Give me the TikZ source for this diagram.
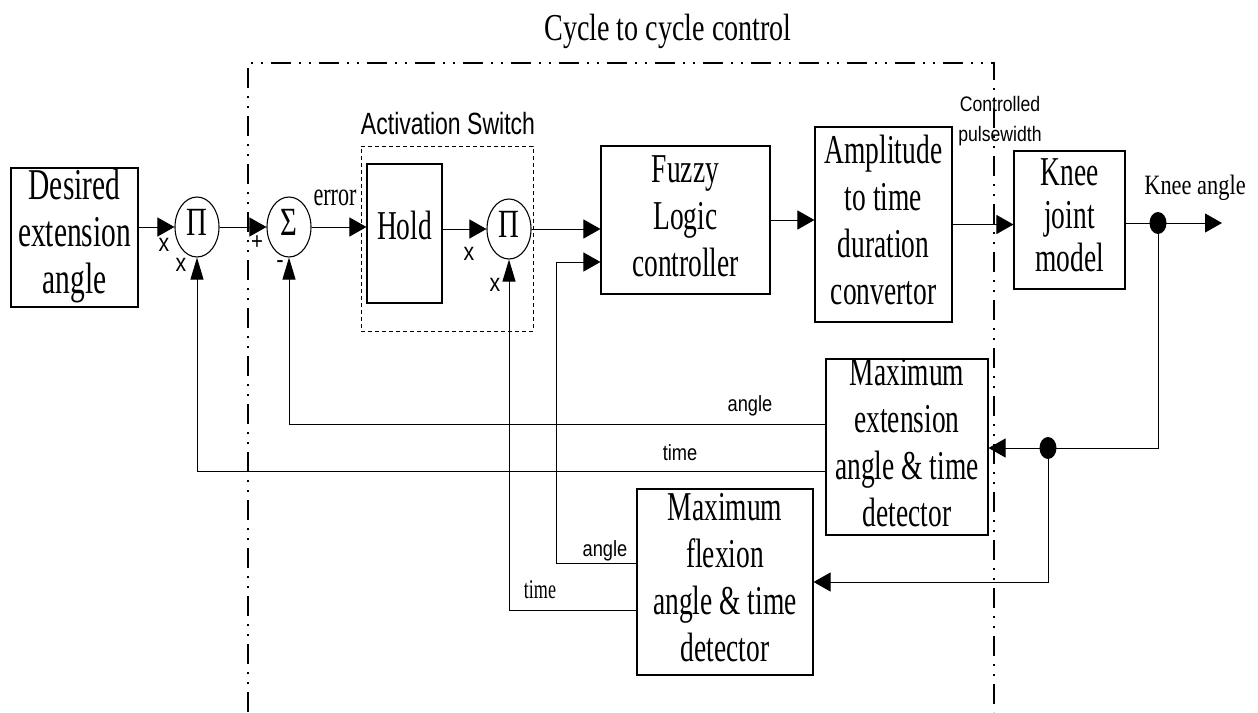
\documentclass[tikz,border=0pt]{standalone}
\usepackage{fontspec}
\setmainfont{Liberation Serif}
\setsansfont{Liberation Sans}
\usepackage{graphicx}
\usetikzlibrary{arrows.meta,shapes.geometric}
\newcommand\sertxt[4]{\scalebox{#2}[1]{\fontsize{#1}{#3}\selectfont\begin{tabular}{@{}c@{}}#4\end{tabular}}}
\newcommand\sanstxt[4]{\scalebox{#2}[1]{\sffamily\fontsize{#1}{#3}\selectfont\begin{tabular}{@{}c@{}}#4\end{tabular}}}
\begin{document}
\begin{tikzpicture}[x=1pt,y=-1pt,
  box/.style={draw, line width=1.1pt, inner sep=0pt},
  dbox/.style={draw, line width=0.8pt, dash pattern=on 4pt off 3pt, inner sep=0pt},
  sumnode/.style={draw, ellipse, line width=1.1pt, minimum width=44pt, minimum height=60pt, inner sep=0pt},
  lbl/.style={inner sep=0pt},
  wire/.style={line width=1pt},
  harr/.style={wire, -{Triangle[length=17pt,width=19pt]}},
  varr/.style={wire, -{Triangle[length=22pt,width=13pt]}},
  dotnode/.style={fill, ellipse, minimum width=17pt, minimum height=22pt, inner sep=0pt},
  frame/.style={line width=2.5pt, dash pattern=on 20pt off 8pt on 2pt off 8pt on 2pt off 8pt}]
\useasboundingbox (0,0) rectangle (1258,712);

% dash-dot frame
\draw[frame] (248,712) -- (248,63) -- (994,63) -- (994,712);

% blocks
\node[box, minimum width=127pt, minimum height=139pt] (desired) at (74.5,237.5) {};
\node[lbl] (desiredT) at (desired) {\sertxt{44}{0.67}{47}{Desired\\extension\\angle}};

\node[dbox, minimum width=172pt, minimum height=185pt] (act) at (447,238.5) {};
\node[lbl] (actT) at (448,127) {\sanstxt{30.7}{0.75}{36}{Activation Switch}};

\node[box, minimum width=75pt, minimum height=139pt] (hold) at (404.5,233.5) {};
\node[lbl] (holdT) at (404.5,230) {\sertxt{41}{0.67}{47}{Hold}};

\node[box, minimum width=169pt, minimum height=148pt] (fuzzy) at (685.5,220) {};
\node[lbl] (fuzzyT) at (fuzzy) {\sertxt{41}{0.67}{47}{Fuzzy\\Logic\\controller}};

\node[box, minimum width=137pt, minimum height=195pt] (amp) at (883.5,224.5) {};
\node[lbl] (ampT) at (amp) {\sertxt{41}{0.67}{47}{Amplitude\\to time\\duration\\convertor}};

\node[box, minimum width=111pt, minimum height=138pt] (knee) at (1069.5,220) {};
\node[lbl] (kneeT) at (knee) {\sertxt{41}{0.67}{43}{Knee\\joint\\model}};

\node[box, minimum width=162pt, minimum height=176pt] (maxext) at (907,447) {};
\node[lbl] (maxextT) at (maxext) {\sertxt{41}{0.67}{47}{Maximum\\extension\\angle \& time\\detector}};

\node[box, minimum width=176pt, minimum height=186pt] (maxflex) at (725,582) {};
\node[lbl] (maxflexT) at (maxflex) {\sertxt{41}{0.67}{47}{Maximum\\flexion\\angle \& time\\detector}};

% summing / product junctions
\node[sumnode] (p1) at (197,227) {\sertxt{40}{0.72}{42}{Π}};
\node[sumnode] (s1) at (289,227) {\sertxt{40}{0.72}{42}{Σ}};
\node[sumnode] (p2) at (509,229) {\sertxt{40}{0.72}{42}{Π}};

% branch dots
\node[dotnode] (j1) at (1158,223) {};
\node[dotnode] (j2) at (1048,448) {};

% helper coordinates
\coordinate (out) at (1222,223);
\coordinate (yA) at (0,424);
\coordinate (yT) at (0,471);
\coordinate (yFA) at (0,563);
\coordinate (yFT) at (0,610);
\coordinate (fa) at (556,262);

% forward path
\draw[harr] (desired.east |- p1) -- (p1.west);
\draw[harr] (p1) -- (s1);
\draw[harr] (s1.east) -- (s1.east -| hold.west);
\draw[harr] (hold.east |- p2) -- (p2.west);
\draw[harr] (p2.east) -- (p2.east -| fuzzy.west);
\draw[harr] (fuzzy.east) -- (fuzzy.east -| amp.west);
\draw[harr] (amp.east) -- (amp.east -| knee.west);
\draw[harr] (knee.east |- out) -- (out);

% feedback path
\draw[wire] (j1.center) |- (j2.center);
\draw[harr] (j2.center) -- (j2.center -| maxext.east);
\draw[harr] (j2.center) |- (maxflex.east);
\draw[varr] (maxext.west |- yA) -| (s1.south);
\draw[varr] (maxext.west |- yT) -| (p1.south);
\draw[harr] (maxflex.west |- yFA) -| (fa) -- (fa -| fuzzy.west);
\draw[varr] (maxflex.west |- yFT) -| (p2.south);

% labels
\node[lbl] (title) at (668,32) {\sertxt{38}{0.74}{44}{Cycle to cycle control}};
\node[lbl] (ctrl) at (1000,120) {\sanstxt{21}{0.84}{30}{Controlled\\pulsewidth}};
\node[lbl] (kangle) at (1195,188) {\sertxt{28}{0.8}{33}{Knee angle}};
\node[lbl] (err) at (335,198) {\sertxt{33}{0.67}{38}{error}};
\node[lbl] (x1) at (164,246) {\sanstxt{25}{0.85}{28}{x}};
\node[lbl] (x2) at (181,266) {\sanstxt{25}{0.85}{28}{x}};
\node[lbl] (plus) at (257,244) {\sanstxt{24}{0.85}{28}{+}};
\node[lbl] (minus) at (280,262) {\sanstxt{26}{0.85}{30}{-}};
\node[lbl] (x3) at (469,255) {\sanstxt{25}{0.85}{28}{x}};
\node[lbl] (x4) at (495,286) {\sanstxt{25}{0.85}{28}{x}};
\node[lbl] (la) at (750,406) {\sanstxt{22}{0.83}{26}{angle}};
\node[lbl] (lt) at (680,455) {\sanstxt{22}{0.83}{26}{time}};
\node[lbl] (fa2) at (605,551) {\sanstxt{22}{0.83}{26}{angle}};
\node[lbl] (ft) at (540,592) {\sertxt{27}{0.67}{32}{time}};
\end{tikzpicture}
\end{document}
